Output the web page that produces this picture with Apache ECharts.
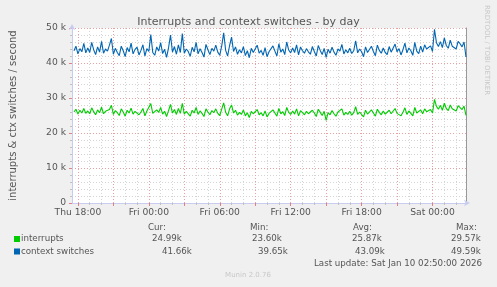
<!DOCTYPE html>
<html>
<head>
	<meta charset="utf-8">
	<title></title>
	<script src="https://cdn.jsdelivr.net/npm/echarts@6.0.0/dist/echarts.min.js"></script>
	<style>
		body { margin: 0; background: #f0f0f0; }
	</style>
</head>

<body>
	<div id="chart" style="width: 497px; height: 287px;"></div>
	<script>

		// context switches per second, thousands, 10 min steps (Thu 17:40 .. Sat 02:50)
		var ctxData = [
			43.5,44.8,42.6,44.1,43.2,45.6,42.9,44.3,43.0,45.9,43.8,42.4,44.6,43.1,46.2,42.8,44.0,43.4,45.1,47.0,
			42.5,44.2,43.0,42.1,44.8,43.5,41.8,44.4,43.2,45.7,42.6,43.9,44.5,42.3,43.6,45.2,42.0,44.1,43.3,48.1,
			43.0,42.2,44.6,43.4,45.8,42.7,43.9,41.6,44.3,48.0,43.1,44.7,42.5,45.2,43.0,48.4,42.8,44.0,43.3,41.9,
			44.5,43.2,45.9,42.6,44.1,43.0,41.7,45.3,43.8,42.4,44.2,43.4,45.1,43.1,42.2,44.9,48.6,43.6,42.0,45.0,
			47.4,43.3,44.6,42.5,43.8,42.9,44.7,42.1,43.5,41.5,44.2,43.0,42.6,45.1,42.8,43.6,42.2,44.4,41.8,43.2,
			42.7,44.9,43.4,42.0,45.5,43.1,44.0,42.4,46.0,43.7,42.9,44.3,43.0,45.2,42.3,44.6,43.5,42.8,44.1,43.2,
			42.5,44.7,43.3,42.0,45.0,43.6,42.4,44.2,41.6,43.9,42.8,44.5,43.1,42.2,44.0,43.4,45.3,42.6,43.8,42.9,
			44.2,42.7,43.5,46.3,42.9,44.0,43.2,41.8,44.6,43.0,42.5,44.8,43.3,42.1,45.1,43.6,42.8,44.3,43.0,42.4,
			44.7,43.1,42.6,45.4,43.2,44.1,42.3,43.8,45.7,42.9,44.3,43.5,42.2,45.9,43.4,42.7,44.8,43.1,45.2,44.0,
			43.6,44.9,43.3,49.6,45.8,44.7,46.1,44.4,47.2,45.0,44.2,46.5,44.8,45.3,44.0,46.2,45.5,44.6,46.0,41.7
		]

		// interrupts per second, thousands
		var irqData = [
			26.0,26.8,25.4,26.5,25.7,27.0,25.6,26.3,25.5,27.2,26.1,25.2,26.6,25.8,27.4,25.5,26.2,25.9,26.7,27.9,
			25.3,26.4,25.8,25.0,26.9,26.0,24.8,26.5,25.7,27.1,25.4,26.2,26.6,25.2,26.0,27.0,24.9,26.3,25.8,28.4,
			25.6,25.1,26.6,25.9,27.3,25.4,26.2,24.7,26.4,28.2,25.7,26.7,25.3,27.0,25.6,28.5,25.4,26.2,25.8,24.8,
			26.5,25.7,27.3,25.3,26.3,25.6,24.7,26.9,26.0,25.2,26.4,25.8,26.9,25.6,25.0,26.8,28.6,25.9,24.9,26.9,
			28.0,25.7,26.5,25.1,25.9,25.3,26.6,24.9,25.8,24.4,26.2,25.5,25.1,26.7,25.2,25.8,24.9,26.3,24.6,25.6,
			25.2,26.6,25.7,24.8,27.0,25.5,26.1,25.0,27.3,25.9,25.3,26.3,25.4,26.9,24.9,26.4,25.8,25.2,26.2,25.5,
			25.0,26.5,25.7,24.7,26.8,25.9,25.0,26.2,23.6,25.8,25.2,26.4,25.5,24.8,26.0,25.7,26.9,25.1,25.9,25.3,
			26.2,25.1,25.8,27.5,25.3,26.0,25.6,24.6,26.5,25.4,25.0,26.6,25.7,24.8,26.8,25.9,25.2,26.3,25.4,25.0,
			26.5,25.5,25.1,27.0,25.6,26.1,24.9,25.9,27.2,25.3,26.3,25.8,24.9,27.3,25.7,25.2,26.6,25.5,26.9,26.1,
			25.8,26.7,25.7,29.6,27.6,26.8,27.9,26.5,28.5,27.0,26.4,28.0,26.9,27.3,26.3,27.8,27.4,26.7,27.7,25.0
		]

		var seriesNames = ["interrupts", "context switches"]
		var curVals = ["24.99k", "41.66k"]
		var minVals = ["23.60k", "39.65k"]
		var avgVals = ["25.87k", "43.09k"]
		var maxVals = ["29.57k", "49.59k"]
		var dayNames = ["Thu", "Fri", "Sat"]

		// hours counted from Thu 00:00
		var tStart = 17.5
		var tEnd = 50 + 50 / 60
		var labelHours = [18, 24, 30, 36, 42, 48]
		var majorHours = [18, 21, 24, 27, 30, 33, 36, 39, 42, 45, 48]
		var minorHours = []
		for (var h = 18; h <= 50; h++) {
			if (h % 3 != 0) minorHours.push(h)
		}

		function pairs(arr) {
			return arr.map(function(v, i) {
				return [tStart + (i + 1) / 6, v * 1000]
			})
		}

		function timeLabel(v) {
			var d = Math.floor(v / 24)
			var hh = Math.round(v - d * 24)
			return dayNames[d] + " " + (hh < 10 ? "0" + hh : hh) + ":00"
		}

		var txt = "#555"
		var fnt = "DejaVu Sans"
		var colors = ["#00cc00", "#0066b3"]

		var mCharts = echarts.init(document.getElementById("chart"))

		var gfx = []
		// legend rows
		var rowY = [239, 251.5]
		seriesNames.forEach(function(n, i) {
			gfx.push({ type: "rect", shape: { x: 14, y: rowY[i] - 3, width: 6, height: 6 }, style: { fill: colors[i] } })
			gfx.push({ type: "text", x: 21, y: rowY[i], style: { text: n, fill: txt, font: "8.7px " + fnt, verticalAlign: "middle" } })
		})
		var cols = [
			{ head: "Cur:", hx: 148, vals: curVals, vx: [152, 162] },
			{ head: "Min:", hx: 250, vals: minVals, vx: [252, 258] },
			{ head: "Avg:", hx: 353, vals: avgVals, vx: [352, 355] },
			{ head: "Max:", hx: 456, vals: maxVals, vx: [451, 451] }
		]
		cols.forEach(function(c) {
			gfx.push({ type: "text", x: c.hx, y: 228, style: { text: c.head, fill: txt, font: "8.7px " + fnt, verticalAlign: "middle" } })
			c.vals.forEach(function(v, i) {
				gfx.push({ type: "text", x: c.vx[i], y: rowY[i], style: { text: v, fill: txt, font: "8.7px " + fnt, verticalAlign: "middle" } })
			})
		})
		gfx.push({ type: "text", x: 482, y: 263.5, style: { text: "Last update: Sat Jan 10 02:50:00 2026", fill: txt, font: "8.7px " + fnt, align: "right", verticalAlign: "middle" } })
		gfx.push({ type: "text", x: 248, y: 275, style: { text: "Munin 2.0.76", fill: "#c8c8c8", font: "7px " + fnt, align: "center", verticalAlign: "middle" } })
		gfx.push({ type: "text", x: 487, y: 5, rotation: -Math.PI / 2, style: { text: "RRDTOOL / TOBI OETIKER", fill: "#c8c8c8", font: "7px " + fnt, align: "left", verticalAlign: "middle" } })

		var opt = {
			backgroundColor: "#f0f0f0",
			animation: false,
			textStyle: { fontFamily: fnt },
			title: {
				text: "Interrupts and context switches - by day",
				left: "center",
				top: 12,
				textStyle: { fontSize: 11, fontWeight: "normal", color: txt, fontFamily: fnt }
			},
			grid: {
				left: 66, right: 31, top: 28, bottom: 84,
				show: true, backgroundColor: "#fff", borderWidth: 0
			},
			xAxis: [
				{
					type: "value", min: tStart, max: tEnd,
					axisLine: { show: true, lineStyle: { color: "#c8ccf0" }, symbol: ["none", "arrow"], symbolSize: [5, 6], symbolOffset: [0, 4] },
					axisTick: { show: true, customValues: majorHours, length: 3, inside: false, lineStyle: { color: "#e08080" } },
					axisLabel: { customValues: labelHours, formatter: timeLabel, color: txt, fontSize: 9.2, fontFamily: fnt, margin: 5 },
					splitLine: { show: true, lineStyle: { color: "#e8a0a0", type: [1, 2] } }
				},
				{
					type: "value", min: tStart, max: tEnd, position: "bottom",
					axisLine: { show: false },
					axisTick: { show: true, customValues: minorHours, length: 2, lineStyle: { color: "#c0c0c0" } },
					axisLabel: { show: false },
					splitLine: { show: true, lineStyle: { color: "#d4d4d4", type: [1, 2] } }
				}
			],
			yAxis: [
				{
					type: "value", min: 0, max: 50000, interval: 10000,
					name: "interrupts & ctx switches / second",
					nameLocation: "middle", nameGap: 54,
					nameTextStyle: { color: txt, fontSize: 10, fontFamily: fnt },
					axisLine: { show: true, lineStyle: { color: "#c8ccf0" }, symbol: ["none", "arrow"], symbolSize: [5, 6], symbolOffset: [0, 4] },
					axisTick: { show: true, length: 3, lineStyle: { color: "#e08080" } },
					minorTick: { show: true, splitNumber: 5, length: 2, lineStyle: { color: "#c0c0c0" } },
					axisLabel: {
						color: txt, fontSize: 9.2, fontFamily: fnt, margin: 6,
						formatter: function(v) { return v == 0 ? "0" : (v / 1000) + " k" }
					},
					splitLine: { show: true, lineStyle: { color: "#e8a0a0", type: [1, 2] } },
					minorSplitLine: { show: true, lineStyle: { color: "#d4d4d4", type: [1, 2] } }
				},
				{
					type: "value", min: 0, max: 50000, position: "right",
					axisLine: { show: true, onZero: false, lineStyle: { color: "#999" } },
					axisTick: { show: false }, axisLabel: { show: false }, splitLine: { show: false }
				}
			],
			series: [
				{
					name: seriesNames[0], type: "line", data: pairs(irqData),
					showSymbol: false, lineStyle: { width: 1.1, color: colors[0] }, itemStyle: { color: colors[0] }
				},
				{
					name: seriesNames[1], type: "line", data: pairs(ctxData),
					showSymbol: false, lineStyle: { width: 1.1, color: colors[1] }, itemStyle: { color: colors[1] }
				}
			],
			graphic: gfx
		}

		mCharts.setOption(opt)

	</script>

</body>
</html>
